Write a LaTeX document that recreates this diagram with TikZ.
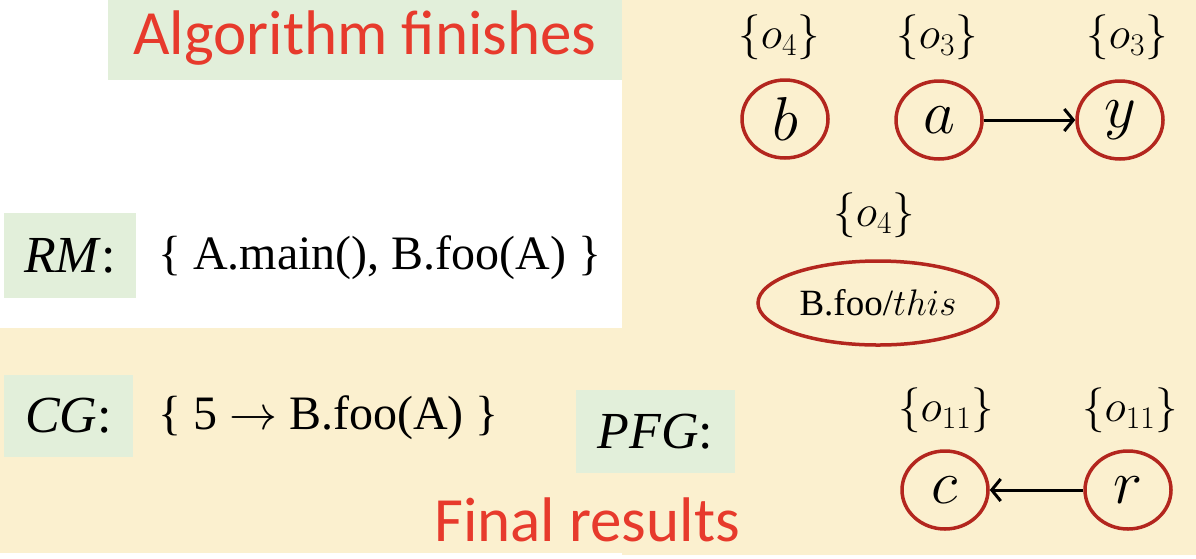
\RequirePackage{fix-cm}
\documentclass[tikz,border=0pt]{standalone}
\usepackage{fontspec}
\setmainfont{Liberation Serif}
\newfontfamily\headfont{Carlito}
\usetikzlibrary{shapes.geometric,arrows.meta}
\definecolor{paper}{HTML}{FBF0CF}
\definecolor{tagbg}{HTML}{E2EFDA}
\definecolor{alert}{HTML}{E73A2C}
\definecolor{varline}{HTML}{B3261E}
\begin{document}
\begin{tikzpicture}[x=1pt,y=-1pt,%
% common options for the green tags:
tag/.style = {fill=tagbg, inner sep=0, font=\fontsize{52}{56}\selectfont},
% common options for the red titles:
title/.style = {text=alert, inner sep=0, font=\fontsize{63}{66}\selectfont\headfont},
% common options for the variables:
var/.style = {ellipse, draw=varline, line width=3.5pt, minimum width=86pt,
            minimum height=78pt, inner sep=0, font=\fontsize{62}{66}\selectfont},
pts/.style = {inner sep=0, font=\fontsize{45}{48}\selectfont},
flow/.style = {line width=3pt, -{Straight Barb[length=9pt,width=22pt]}}]
\useasboundingbox (0,0) rectangle (1196,558);
\fill[paper] (0,0) rectangle (1196,555);
\fill[white] (0,0) rectangle (622,328);
\fill[white] (0,553) rectangle (622,558);
\node[fill=tagbg, minimum width=514pt, minimum height=80pt] (head) at (365,40) {};
\node[title, anchor=base] (headtext) at (365,54) {Algorithm finishes};
\node[tag, minimum width=132pt, minimum height=85pt] (rmtag) at (70,255.5) {\textit{RM}:};
\node[anchor=west, inner sep=0, font=\fontsize{48}{52}\selectfont] (rmset) at (158,258) {\{ A.main(), B.foo(A) \}};
\node[tag, minimum width=129pt, minimum height=82pt] (cgtag) at (68.5,416) {\textit{CG}:};
\node[anchor=west, inner sep=0, font=\fontsize{48}{52}\selectfont] (cgset) at (158,418) {\{ 5 $\rightarrow$ B.foo(A) \}};
\node[tag, minimum width=159pt, minimum height=83pt] (pfgtag) at (655.5,431.5) {\textit{PFG}:};
\node[title, anchor=base] (final) at (587,541) {Final results};
\node[pts] (pb) at (779,37) {$\{o_4\}$};
\node[pts] (pa) at (937,37) {$\{o_3\}$};
\node[pts] (py) at (1127,37) {$\{o_3\}$};
\node[var] (b) at (785,119) {$b$};
\node[var] (a) at (939,120) {$a$};
\node[var] (y) at (1120,120) {$y$};
\node[pts] (pthis) at (874,215) {$\{o_4\}$};
\node[var, minimum width=240pt, minimum height=84pt, font=\fontsize{37}{40}\selectfont] (this) at (878,303) {B.foo/$this$};
\node[pts] (pc) at (946,410) {$\{o_{11}\}$};
\node[pts] (pr) at (1130,410) {$\{o_{11}\}$};
\node[var] (c) at (945,490) {$c$};
\node[var] (r) at (1128,490) {$r$};
\draw[flow] (a) -- (y);
\draw[flow] (r) -- (c);
\end{tikzpicture}
\end{document}
